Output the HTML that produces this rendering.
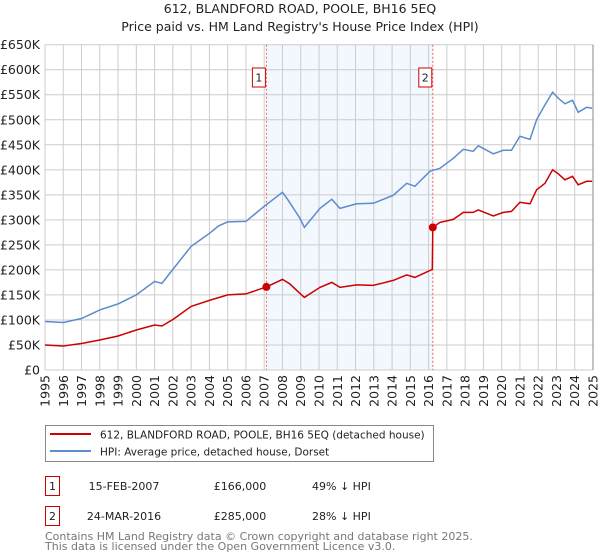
<!DOCTYPE html>
<html><head><meta charset="utf-8"><style>
body{margin:0;background:#fff;}
svg{display:block;font-family:"DejaVu Sans","Liberation Sans",sans-serif;}
</style></head><body>
<svg id="chart" width="600" height="560" viewBox="0 0 600 560">
<text x="300" y="13" text-anchor="middle" font-size="12.5" fill="#222">612, BLANDFORD ROAD, POOLE, BH16 5EQ</text>
<text x="300" y="31" text-anchor="middle" font-size="12.5" fill="#222">Price paid vs. HM Land Registry's House Price Index (HPI)</text>
<g id="plot"></g>
<g>
<rect x="45.5" y="425.5" width="388" height="36" fill="#fff" stroke="#888"/>
<line x1="50" y1="434" x2="91" y2="434" stroke="#cc0000" stroke-width="2"/>
<text x="100" y="438.5" font-size="10.5" fill="#222">612, BLANDFORD ROAD, POOLE, BH16 5EQ (detached house)</text>
<line x1="50" y1="451" x2="91" y2="451" stroke="#5b8ccf" stroke-width="2"/>
<text x="100" y="455.5" font-size="10.5" fill="#222">HPI: Average price, detached house, Dorset</text>
</g>
<g font-size="11" fill="#222">
<rect x="45.5" y="476.5" width="14" height="19" fill="#fff" stroke="#cc0000"/>
<text x="52.5" y="490" text-anchor="middle">1</text>
<text x="124" y="490" text-anchor="middle">15-FEB-2007</text>
<text x="240" y="490" text-anchor="middle">£166,000</text>
<text x="312" y="490">49% ↓ HPI</text>
<rect x="45.5" y="506.5" width="14" height="19" fill="#fff" stroke="#cc0000"/>
<text x="52.5" y="520" text-anchor="middle">2</text>
<text x="124" y="520" text-anchor="middle">24-MAR-2016</text>
<text x="240" y="520" text-anchor="middle">£285,000</text>
<text x="312" y="520">28% ↓ HPI</text>
</g>
<text x="45" y="540" font-size="11" fill="#777">Contains HM Land Registry data © Crown copyright and database right 2025.</text>
<text x="45" y="550" font-size="11" fill="#777">This data is licensed under the Open Government Licence v3.0.</text>
</svg>
<script>
const yTicks=[0,50,100,150,200,250,300,350,400,450,500,550,600,650];
const yTickLabels=["£0","£50K","£100K","£150K","£200K","£250K","£300K","£350K","£400K","£450K","£500K","£550K","£600K","£650K"];
const xYears=[1995,1996,1997,1998,1999,2000,2001,2002,2003,2004,2005,2006,2007,2008,2009,2010,2011,2012,2013,2014,2015,2016,2017,2018,2019,2020,2021,2022,2023,2024,2025];
const hpiDates=[1995.0,1996.0,1997.0,1998.0,1999.0,2000.0,2001.0,2001.4,2002.0,2003.0,2004.0,2004.5,2005.0,2006.0,2007.0,2008.0,2008.3,2008.96,2009.2,2010.05,2010.7,2011.15,2012.06,2012.97,2014.06,2014.8,2015.25,2016.07,2016.62,2017.35,2017.9,2018.44,2018.72,2019.54,2020.09,2020.54,2021.0,2021.55,2021.91,2022.37,2022.79,2023.1,2023.46,2023.88,2024.19,2024.65,2024.95];
const hpiValues=[97,95,103,120,132,150,177,173,201,247,273,288,296,297,327,355,340,303,285,323,341,323,332,333,349,373,367,397,403,423,441,437,448,432,439,439,467,461,500,530,555,543,532,539,515,525,523];
const priceDates=[1995.0,1996.0,1997.0,1998.0,1999.0,2000.0,2001.0,2001.4,2002.0,2003.0,2004.0,2005.0,2006.0,2007.12,2008.0,2008.4,2008.96,2009.2,2010.05,2010.7,2011.15,2012.06,2012.97,2014.06,2014.8,2015.25,2016.2,2016.23,2016.62,2017.35,2017.9,2018.44,2018.72,2019.54,2020.09,2020.54,2021.0,2021.55,2021.91,2022.37,2022.79,2023.1,2023.46,2023.88,2024.19,2024.65,2024.95];
const priceValues=[50,48,53,60,68,80,90,88,101,127,139,150,152,166,181,172,153,145,165,175,165,170,169,179,190,185,201,285,295,301,315,315,320,308,315,317,335,332,360,373,400,392,380,387,370,377,377];
const saleDates=[2007.12,2016.23];
const saleValues=[166,285];
const saleLabels=["1","2"];

const L=45,R=593,T=44.7,B=370;
const xs=y=>L+(y-1995)/30*(R-L);
const ys=v=>B-v/650*(B-T);
const NS="http://www.w3.org/2000/svg";
const g=document.getElementById('plot');
function mk(tag,attrs,parent){const e=document.createElementNS(NS,tag);for(const k in attrs)e.setAttribute(k,attrs[k]);(parent||g).appendChild(e);return e;}
let e=mk('rect',{x:xs(saleDates[0]),y:T,width:xs(saleDates[1])-xs(saleDates[0]),height:B-T,fill:'#eef3fd',opacity:0.7});


yTicks.forEach((v,i)=>{
 let l=mk('line',{x1:L,x2:R,y1:ys(v),y2:ys(v),stroke:'#ccc','stroke-width':1});
 
 
 let t=mk('text',{x:40,y:ys(v)+4.5,'text-anchor':'end','font-size':12.5,fill:'#222'});
 t.textContent=yTickLabels[i];
 
 
});
xYears.forEach(yr=>{
 let l=mk('line',{x1:xs(yr),x2:xs(yr),y1:T,y2:B,stroke:'#ccc','stroke-width':1});
 
 
 let t=mk('text',{x:0,y:0,'text-anchor':'end','font-size':12.5,fill:'#222',transform:`translate(${xs(yr)+4.5},375) rotate(-90)`});
 t.textContent=yr;
 
 
});
saleDates.forEach((d,i)=>{
 let l=mk('line',{x1:xs(d),x2:xs(d),y1:T,y2:B,stroke:'#f06060','stroke-width':1,'stroke-dasharray':'2,2'});
 
 
 let r=mk('rect',{x:xs(d)-14,y:68,width:13,height:19,fill:'#fff',stroke:'#cc0000'});
 
 
 let t=mk('text',{x:xs(d)-7.5,y:81.5,'text-anchor':'middle','font-size':11,fill:'#222'});
 t.textContent=saleLabels[i];
 
 
});
const path=(d,v)=>d.map((x,i)=>(i?'L':'M')+xs(x).toFixed(1)+','+ys(v[i]).toFixed(1)).join('');
let hp=mk('path',{d:path(hpiDates,hpiValues),fill:'none',stroke:'#5b8ccf','stroke-width':1.5});


let pp=mk('path',{d:path(priceDates,priceValues),fill:'none',stroke:'#cc0000','stroke-width':1.5});


saleDates.forEach((d,i)=>{
 let c=mk('circle',{cx:xs(d),cy:ys(saleValues[i]),r:4,fill:'#cc0000'});
 
 
});
let ax=mk('line',{x1:R,x2:R,y1:T,y2:B,stroke:'#888'});


</script>
</body></html>
